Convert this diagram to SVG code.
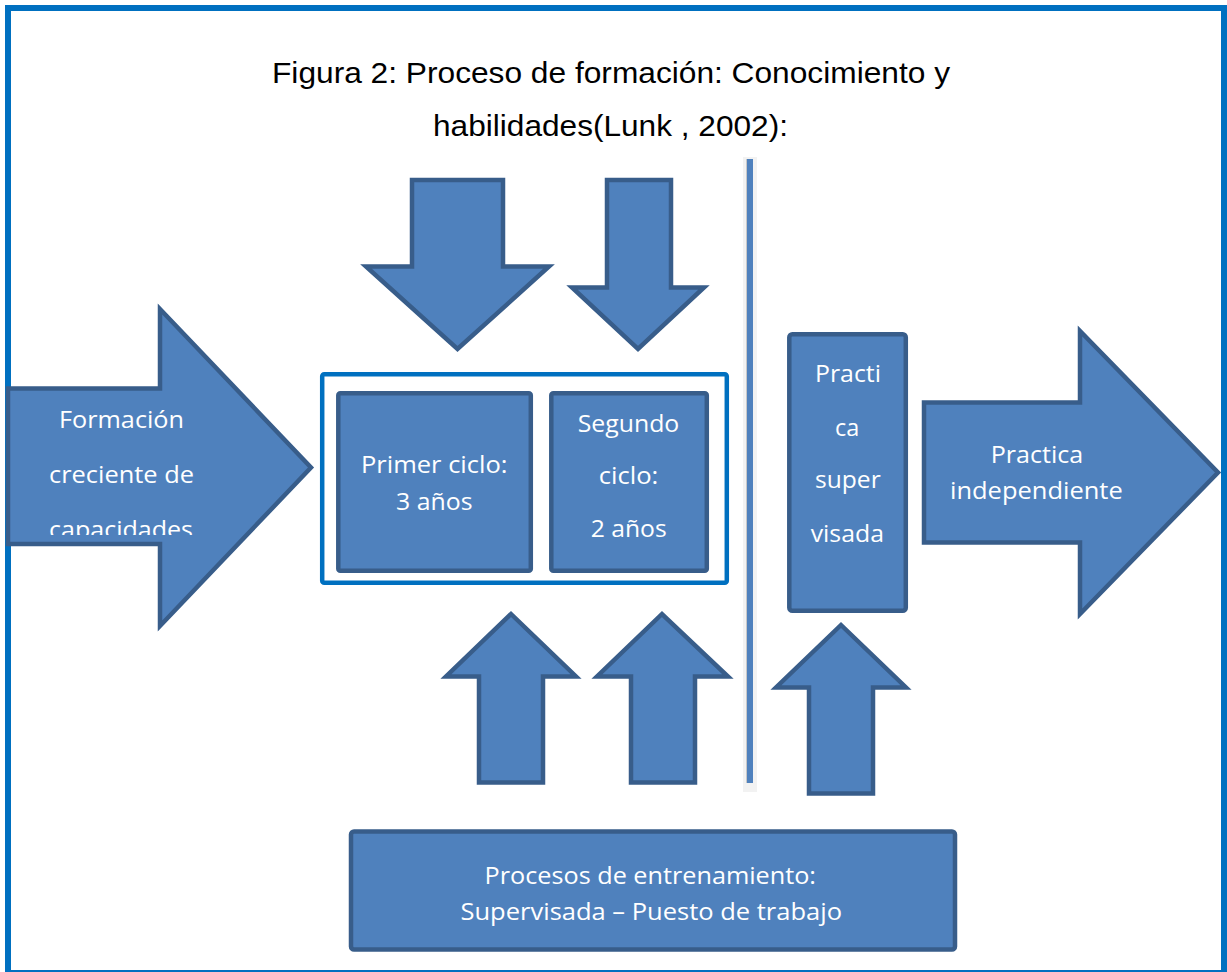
<svg xmlns="http://www.w3.org/2000/svg" width="1227" height="972" viewBox="0 0 1227 972">
<style>
.shape{fill:#4F81BD;stroke:#385D8A;stroke-width:4.5;stroke-linejoin:miter}
.lbl{font-family:"Open Sans","Noto Sans",sans-serif;font-size:24.5px;fill:#FFFFFF}
.title{font-family:"Liberation Sans",Arial,sans-serif;font-size:29.5px;fill:#000000}
.frame{fill:none;stroke:#0070C0}
</style>
<defs>
<clipPath id="clipLeft"><rect x="0" y="380" width="320" height="155"/></clipPath>
</defs>
<rect x="0" y="0" width="1227" height="972" fill="#FFFFFF"/>
<rect class="frame" x="8" y="8" width="1216" height="965" stroke-width="6"/>
<g id="title">
<text class="title" x="272" y="83" textLength="678" lengthAdjust="spacingAndGlyphs">Figura 2: Proceso de formación: Conocimiento y</text>
<text class="title" x="433" y="136" textLength="355" lengthAdjust="spacingAndGlyphs">habilidades(Lunk , 2002):</text>
</g>
<g id="divider">
<rect x="743" y="157" width="14" height="635" fill="#F2F2F2"/>
<rect x="746" y="159" width="1.5" height="624" fill="#C8C8C8"/>
<rect x="747" y="159" width="6" height="624" fill="#4F81BD"/>
</g>
<g id="connectors">
<polygon id="down1" class="shape" points="412,180 503,180 503,266.5 549,266.5 457.5,349 366,266.5 412,266.5"/>
<polygon id="down2" class="shape" points="607,180 671,180 671,287.5 704,287.5 638,349 572,287.5 607,287.5"/>
<polygon id="up1" class="shape" points="479,782.5 543,782.5 543,676.5 576,676.5 511,614 446,676.5 479,676.5"/>
<polygon id="up2" class="shape" points="631,782.5 695,782.5 695,676.5 728,676.5 662,614 597,676.5 631,676.5"/>
<polygon id="up3" class="shape" points="809,793.5 873,793.5 873,687.5 906,687.5 841,625 776,687.5 809,687.5"/>
</g>
<g id="formacion">
<polygon class="shape" points="8,388.5 160,388.5 160,309 311,467.5 160,626 160,544 8,544"/>
<g clip-path="url(#clipLeft)">
<text class="lbl" x="59" y="428" textLength="125" lengthAdjust="spacingAndGlyphs">Formación</text>
<text class="lbl" x="49" y="483" textLength="145" lengthAdjust="spacingAndGlyphs">creciente de</text>
<text class="lbl" x="49" y="538" textLength="144" lengthAdjust="spacingAndGlyphs">capacidades</text>
</g>
</g>
<g id="ciclos-frame">
<rect class="frame" x="322.2" y="374.2" width="404.6" height="208.6" rx="2" stroke-width="4.5"/>
</g>
<g id="primer-ciclo">
<rect class="shape" x="338.3" y="393.3" width="192.5" height="177.5" rx="2"/>
<text class="lbl" x="361" y="473" textLength="146.5" lengthAdjust="spacingAndGlyphs">Primer ciclo:</text>
<text class="lbl" x="396" y="510" textLength="76.5" lengthAdjust="spacingAndGlyphs">3 años</text>
</g>
<g id="segundo-ciclo">
<rect class="shape" x="551.3" y="393.3" width="155.5" height="177.5" rx="2"/>
<text class="lbl" x="577.7" y="432" textLength="101.6" lengthAdjust="spacingAndGlyphs">Segundo</text>
<text class="lbl" x="598.7" y="484" textLength="59.6" lengthAdjust="spacingAndGlyphs">ciclo:</text>
<text class="lbl" x="590.7" y="537" textLength="76" lengthAdjust="spacingAndGlyphs">2 años</text>
</g>
<g id="practica-supervisada">
<rect class="shape" x="789.3" y="334.3" width="116.5" height="276.5" rx="3"/>
<text class="lbl" x="815" y="382" textLength="66" lengthAdjust="spacingAndGlyphs">Practi</text>
<text class="lbl" x="835" y="436" textLength="24.3" lengthAdjust="spacingAndGlyphs">ca</text>
<text class="lbl" x="815" y="488" textLength="65.7" lengthAdjust="spacingAndGlyphs">super</text>
<text class="lbl" x="810.7" y="542" textLength="73.3" lengthAdjust="spacingAndGlyphs">visada</text>
</g>
<g id="practica-independiente">
<polygon class="shape" points="924,402.5 1080,402.5 1080,331 1218,472.5 1080,614 1080,542.5 924,542.5"/>
<text class="lbl" x="990.7" y="463" textLength="92.6" lengthAdjust="spacingAndGlyphs">Practica</text>
<text class="lbl" x="950" y="499" textLength="172.7" lengthAdjust="spacingAndGlyphs">independiente</text>
</g>
<g id="procesos-entrenamiento">
<rect class="shape" x="351" y="831.5" width="604" height="118" rx="3"/>
<text class="lbl" x="484.6" y="884" textLength="331.4" lengthAdjust="spacingAndGlyphs">Procesos de entrenamiento:</text>
<text class="lbl" x="460.5" y="920" textLength="381.5" lengthAdjust="spacingAndGlyphs">Supervisada – Puesto de trabajo</text>
</g>
</svg>
